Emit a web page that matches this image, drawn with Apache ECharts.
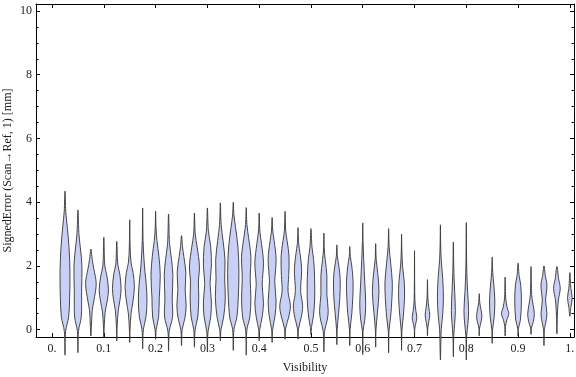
<!DOCTYPE html>
<html>
<head>
<meta charset="utf-8">
<script src="https://cdn.jsdelivr.net/npm/echarts@6/dist/echarts.min.js"></script>
<style>html,body{margin:0;padding:0;background:#fff}#c{width:576px;height:377px}</style>
</head>
<body>
<div id="c"></div>
<script>
// Category positions (Visibility)
var visibility = [0.025,0.05,0.075,0.1,0.125,0.15,0.175,0.2,0.225,0.25,0.275,0.3,0.325,0.35,0.375,0.4,0.425,0.45,0.475,0.5,
  0.525,0.55,0.575,0.6,0.625,0.65,0.675,0.7,0.725,0.75,0.775,0.8,0.825,0.85,0.875,0.9,0.925,0.95,0.975,1.0];

// Violin profiles: [SignedError value, relative density]
var violinProfiles = [
  [[-0.8,0],[-0.05,0.1],[0.4,0.55],[1.0,0.7],[1.8,0.75],[2.6,0.6],[3.2,0.35],[3.7,0.12],[4.35,0]],
  [[-0.72,0],[-0.05,0.08],[0.4,0.5],[1.2,0.55],[2.0,0.6],[2.5,0.4],[3.0,0.15],[3.76,0]],
  [[-0.2,0],[0.1,0.08],[0.6,0.2],[0.9,0.45],[1.45,0.8],[1.9,0.45],[2.2,0.2],[2.53,0]],
  [[-0.25,0],[0.1,0.06],[0.55,0.2],[0.9,0.5],[1.25,0.7],[1.7,0.45],[2.0,0.15],[2.9,0]],
  [[-0.35,0],[0.1,0.06],[0.6,0.22],[0.95,0.5],[1.3,0.65],[1.75,0.45],[2.05,0.15],[2.77,0]],
  [[-0.4,0],[0.0,0.05],[0.5,0.2],[0.9,0.5],[1.35,0.7],[1.8,0.5],[2.1,0.2],[2.6,0.06],[3.45,0]],
  [[-0.6,0],[0.0,0.1],[0.4,0.5],[0.9,0.65],[1.4,0.55],[1.8,0.35],[2.2,0.2],[2.8,0.06],[3.82,0]],
  [[-0.3,0],[0.0,0.08],[0.4,0.45],[1.0,0.55],[1.7,0.7],[2.3,0.5],[2.8,0.2],[3.2,0.06],[3.72,0]],
  [[-0.68,0],[-0.05,0.1],[0.4,0.6],[1.0,0.55],[1.7,0.65],[2.2,0.45],[2.7,0.15],[3.63,0]],
  [[-0.5,0],[0.0,0.1],[0.35,0.5],[0.75,0.7],[1.25,0.55],[1.8,0.65],[2.3,0.35],[2.6,0.15],[2.95,0]],
  [[-0.55,0],[0.0,0.1],[0.4,0.5],[1.0,0.65],[1.5,0.6],[2.0,0.75],[2.6,0.4],[3.0,0.12],[3.66,0]],
  [[-0.68,0],[-0.05,0.1],[0.4,0.5],[0.9,0.6],[1.45,0.4],[2.0,0.6],[2.6,0.5],[3.1,0.15],[3.82,0]],
  [[-0.35,0],[0.0,0.1],[0.4,0.5],[1.0,0.75],[1.6,0.65],[2.2,0.7],[2.8,0.4],[3.3,0.12],[3.98,0]],
  [[-0.65,0],[0.0,0.1],[0.4,0.55],[1.0,0.75],[1.8,0.85],[2.6,0.7],[3.2,0.35],[3.6,0.1],[4.0,0]],
  [[-0.8,0],[0.0,0.1],[0.4,0.55],[1.0,0.7],[1.6,0.6],[2.3,0.7],[2.9,0.35],[3.3,0.1],[3.83,0]],
  [[-0.35,0],[0.0,0.08],[0.4,0.45],[0.85,0.65],[1.4,0.45],[2.1,0.65],[2.7,0.35],[3.1,0.1],[3.66,0]],
  [[-0.4,0],[0.0,0.08],[0.45,0.45],[0.9,0.6],[1.5,0.4],[2.2,0.6],[2.8,0.3],[3.1,0.1],[3.52,0]],
  [[-0.3,0],[0.05,0.1],[0.4,0.55],[0.75,0.8],[1.2,0.45],[1.7,0.55],[2.3,0.6],[2.8,0.3],[3.1,0.1],[3.71,0]],
  [[-0.3,0],[0.05,0.1],[0.4,0.5],[0.75,0.7],[1.2,0.4],[1.9,0.55],[2.4,0.3],[2.7,0.1],[3.2,0]],
  [[-0.15,0],[0.1,0.1],[0.4,0.35],[0.9,0.55],[1.6,0.55],[2.2,0.4],[2.6,0.15],[3.17,0]],
  [[-0.7,0],[-0.05,0.1],[0.3,0.5],[0.6,0.65],[1.1,0.45],[1.7,0.45],[2.2,0.2],[2.5,0.06],[3.03,0]],
  [[-0.47,0],[0.0,0.05],[0.5,0.25],[1.0,0.45],[1.6,0.5],[2.0,0.3],[2.3,0.08],[2.66,0]],
  [[-0.5,0],[0.0,0.05],[0.5,0.3],[1.0,0.45],[1.5,0.5],[2.0,0.3],[2.3,0.08],[2.61,0]],
  [[-0.78,0],[-0.05,0.05],[0.3,0.3],[0.8,0.45],[1.5,0.3],[2.2,0.15],[2.8,0.04],[3.35,0]],
  [[-0.55,0],[0.0,0.05],[0.5,0.25],[1.2,0.5],[1.8,0.3],[2.2,0.08],[2.7,0]],
  [[-0.73,0],[-0.05,0.05],[0.4,0.3],[1.0,0.5],[1.5,0.55],[2.1,0.3],[2.6,0.08],[3.17,0]],
  [[-0.65,0],[-0.05,0.05],[0.4,0.25],[1.0,0.45],[1.5,0.4],[2.0,0.15],[2.5,0.04],[3.0,0]],
  [[-0.2,0],[0.05,0.05],[0.2,0.2],[0.38,0.35],[0.6,0.2],[0.9,0.06],[1.5,0.02],[2.48,0]],
  [[-0.2,0],[0.05,0.05],[0.25,0.2],[0.45,0.35],[0.7,0.2],[1.0,0.06],[1.57,0]],
  [[-0.95,0],[-0.3,0.08],[0.0,0.12],[0.5,0.35],[1.0,0.45],[1.6,0.35],[2.2,0.12],[2.7,0.04],[3.29,0]],
  [[-0.85,0],[-0.2,0.06],[0.2,0.2],[0.6,0.3],[1.2,0.2],[1.8,0.08],[2.75,0]],
  [[-0.95,0],[-0.2,0.06],[0.2,0.25],[0.6,0.35],[1.2,0.2],[1.8,0.08],[2.5,0.03],[3.36,0]],
  [[-0.2,0],[0.05,0.06],[0.2,0.22],[0.4,0.4],[0.65,0.25],[0.85,0.08],[1.13,0]],
  [[-0.43,0],[0.0,0.06],[0.4,0.3],[0.9,0.4],[1.4,0.25],[1.8,0.08],[2.28,0]],
  [[-0.2,0],[0.1,0.06],[0.3,0.25],[0.5,0.55],[0.7,0.3],[1.0,0.08],[1.65,0]],
  [[-0.2,0],[0.05,0.06],[0.3,0.35],[0.9,0.5],[1.4,0.4],[1.7,0.15],[2.09,0]],
  [[-0.15,0],[0.05,0.06],[0.25,0.35],[0.5,0.5],[0.8,0.3],[1.1,0.1],[1.98,0]],
  [[-0.5,0],[0.0,0.06],[0.2,0.25],[0.5,0.45],[0.9,0.25],[1.4,0.45],[1.7,0.2],[2.0,0]],
  [[-0.13,0],[0.4,0.06],[0.9,0.2],[1.3,0.5],[1.6,0.25],[1.98,0]],
  [[0.42,0],[0.7,0.15],[1.0,0.35],[1.3,0.15],[1.79,0]]
];

var xRange = [-0.031, 1.008];
var yRange = [-0.23, 10.22];
var xAxisTitle = 'Visibility';
var yAxisTitle = 'SignedError (Scan\u2192Ref, 1) [mm]';

var FONT = '"Liberation Serif", "DejaVu Serif", serif';
var chart = echarts.init(document.getElementById('c'), null, {renderer: 'canvas'});

function xFmt(v) {
  var r = Math.round(v * 10) / 10;
  if (r === 0) return '0.';
  if (r === 1) return '1.';
  return r.toFixed(1);
}

function renderViolin(params, api) {
  var i = params.dataIndex;
  var x = api.value(0);
  var prof = violinProfiles[i];
  var unit = api.size([0.0128, 0])[0];
  var pts = [];
  for (var j = 0; j < prof.length; j++) {
    var p = api.coord([x, prof[j][0]]);
    pts.push([p[0] + prof[j][1] * unit, p[1]]);
  }
  for (var k = prof.length - 2; k >= 1; k--) {
    var q = api.coord([x, prof[k][0]]);
    pts.push([q[0] - prof[k][1] * unit, q[1]]);
  }
  return {
    type: 'polygon',
    shape: {points: pts, smooth: 0.35},
    style: {fill: '#c9d0f5', stroke: '#363636', lineWidth: 0.9}
  };
}

function mkAxis(extra) {
  var base = {
    type: 'value',
    splitLine: {show: false},
    axisLine: {show: true, onZero: false, lineStyle: {color: '#000', width: 1}},
    axisLabel: {show: false},
    nameMoveOverlap: false
  };
  return Object.assign(base, extra);
}

var option = {
  animation: false,
  backgroundColor: '#fff',
  grid: {left: 36, right: 2, top: 4, bottom: 40, containLabel: false, outerBoundsMode: 'none'},
  xAxis: [
    mkAxis({
      position: 'bottom', min: xRange[0], max: xRange[1], splitNumber: 10,
      axisTick: {show: true, inside: true, length: 4, lineStyle: {color: '#000'}},
      axisLabel: {show: true, formatter: xFmt, showMinLabel: false, showMaxLabel: false,
        fontFamily: FONT, fontSize: 12, color: '#222', margin: 6},
      name: xAxisTitle, nameLocation: 'middle', nameGap: 25,
      nameTextStyle: {fontFamily: FONT, fontSize: 12, color: '#222'}
    }),
    mkAxis({
      position: 'top', min: xRange[0], max: xRange[1], splitNumber: 10,
      axisTick: {show: true, inside: true, length: 4, lineStyle: {color: '#000'}}
    })
  ],
  yAxis: [
    mkAxis({
      position: 'left', min: yRange[0], max: yRange[1], splitNumber: 5,
      axisTick: {show: true, inside: true, length: 4, lineStyle: {color: '#000'}},
      minorTick: {show: true, splitNumber: 4, length: 2.5, lineStyle: {color: '#000'}},
      axisLabel: {show: true, showMinLabel: false, showMaxLabel: false,
        fontFamily: FONT, fontSize: 12, color: '#222', margin: 4},
      name: yAxisTitle, nameLocation: 'middle', nameGap: 22, nameRotate: 90,
      nameTextStyle: {fontFamily: FONT, fontSize: 12, color: '#222'}
    }),
    mkAxis({
      position: 'right', min: yRange[0], max: yRange[1], splitNumber: 5,
      axisTick: {show: true, inside: true, length: 4, lineStyle: {color: '#000'}},
      minorTick: {show: true, splitNumber: 4, length: 2.5, lineStyle: {color: '#000'}}
    })
  ],
  series: [{
    type: 'custom',
    xAxisIndex: 0, yAxisIndex: 0,
    clip: false,
    renderItem: renderViolin,
    data: visibility.map(function (v, i) { return [v, violinProfiles[i][0][0], violinProfiles[i][violinProfiles[i].length - 1][0]]; }),
    encode: {x: 0, y: [1, 2]}
  }]
};
chart.setOption(option);
</script>
</body>
</html>
